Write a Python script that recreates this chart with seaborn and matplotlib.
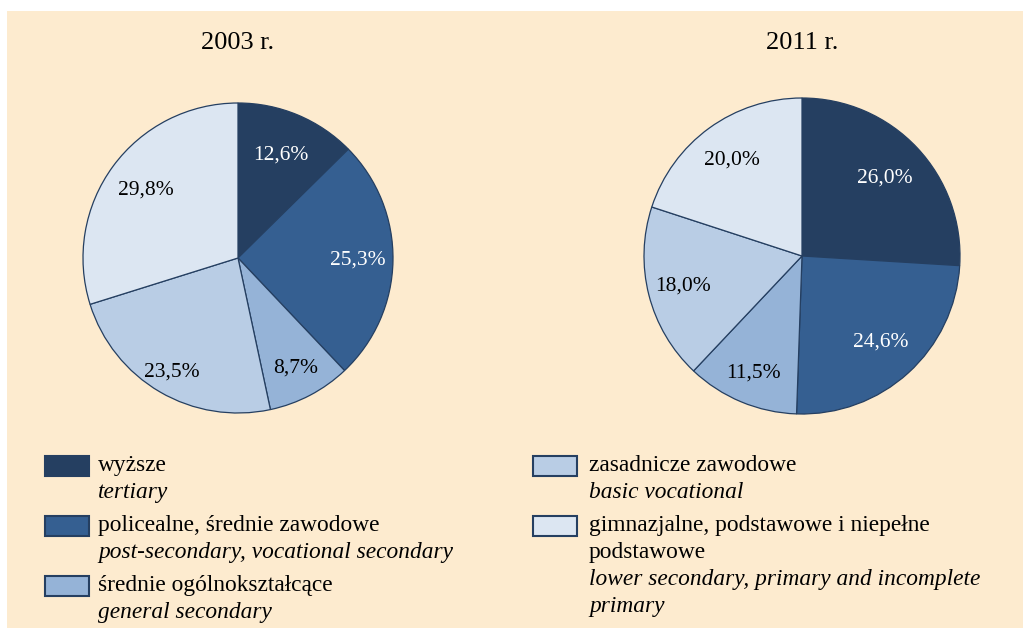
import numpy as np
import matplotlib
matplotlib.use("Agg")
import matplotlib.pyplot as plt
from matplotlib.patches import Rectangle
import seaborn as sns

# ---- data ----
years = ["2003 r.", "2011 r."]
categories_pl = ["wyższe", "policealne, średnie zawodowe", "średnie ogólnokształcące",
                 "zasadnicze zawodowe", "gimnazjalne, podstawowe i niepełne\npodstawowe"]
categories_en = ["tertiary", "post-secondary, vocational secondary", "general secondary",
                 "basic vocational", "lower secondary, primary and incomplete\nprimary"]
values_2003 = [12.6, 25.3, 8.7, 23.5, 29.8]
values_2011 = [26.0, 24.6, 11.5, 18.0, 20.0]

# ---- style ----
sns.set_style("white")
plt.rcParams["font.family"] = ["Liberation Serif", "DejaVu Serif"]
plt.rcParams["text.color"] = "black"
colors = sns.color_palette(["#253F61", "#355F91", "#95B3D7", "#B9CDE5", "#DCE6F2"])
text_colors = ["white", "white", "black", "black", "black"]
edge = "#253F61"
bg = "#FDEBCF"

W, H = 1023, 628
fig = plt.figure(figsize=(W / 100, H / 100), dpi=100, facecolor="white")
fx = lambda px: px / W
fy = lambda py: 1 - py / H

fig.add_artist(Rectangle((fx(7), 0), 1 - fx(7), fy(11), transform=fig.transFigure,
                         facecolor=bg, edgecolor="none", zorder=0))

label_r = [[0.72, 0.77, 0.80, 0.85, 0.74], [0.72, 0.74, 0.80, 0.78, 0.75]]
pies = [(values_2003, 238, 258, 155), (values_2011, 802, 256, 158)]

for i, (vals, cx, cy, r) in enumerate(pies):
    ax = fig.add_axes([fx(cx - r), fy(cy + r), 2 * r / W, 2 * r / H])
    ax.set_facecolor("none")
    wedges, _ = ax.pie(vals, colors=colors, startangle=90, counterclock=False,
                       wedgeprops=dict(edgecolor=edge, linewidth=0.9))
    ax.set_xlim(-1.0, 1.0)
    ax.set_ylim(-1.0, 1.0)
    ax.set_aspect("auto")
    ax.axis("off")
    for w in wedges:
        w.set_clip_on(False)
    for j, w in enumerate(wedges):
        ang = np.deg2rad((w.theta1 + w.theta2) / 2)
        rr = label_r[i][j]
        ax.text(rr * np.cos(ang), rr * np.sin(ang),
                f"{vals[j]:.1f}%".replace(".", ","), ha="center", va="center",
                fontsize=15.5, color=text_colors[j])
    fig.text(fx(cx), fy(49), years[i], ha="center", va="baseline", fontsize=19)

# ---- legend ----
leg_cols = [(45, 98, [0, 1, 2]), (533, 589, [3, 4])]
for (px, tx, idxs) in leg_cols:
    y = 456
    for k in idxs:
        fig.add_artist(Rectangle((fx(px), fy(y + 20)), 44 / W, 20 / H,
                                 transform=fig.transFigure, facecolor=colors[k],
                                 edgecolor=edge, linewidth=1.5, zorder=2))
        base = y + 15
        pl_lines = categories_pl[k].split("\n")
        en_lines = categories_en[k].split("\n")
        for line in pl_lines:
            fig.text(fx(tx), fy(base), line, ha="left", va="baseline", fontsize=16.8)
            base += 27
        for line in en_lines:
            fig.text(fx(tx), fy(base), line, ha="left", va="baseline", fontsize=16.8,
                     style="italic")
            base += 27
        y = base - 27 + 18

fig.savefig("out.png", dpi=100, facecolor=fig.get_facecolor())
